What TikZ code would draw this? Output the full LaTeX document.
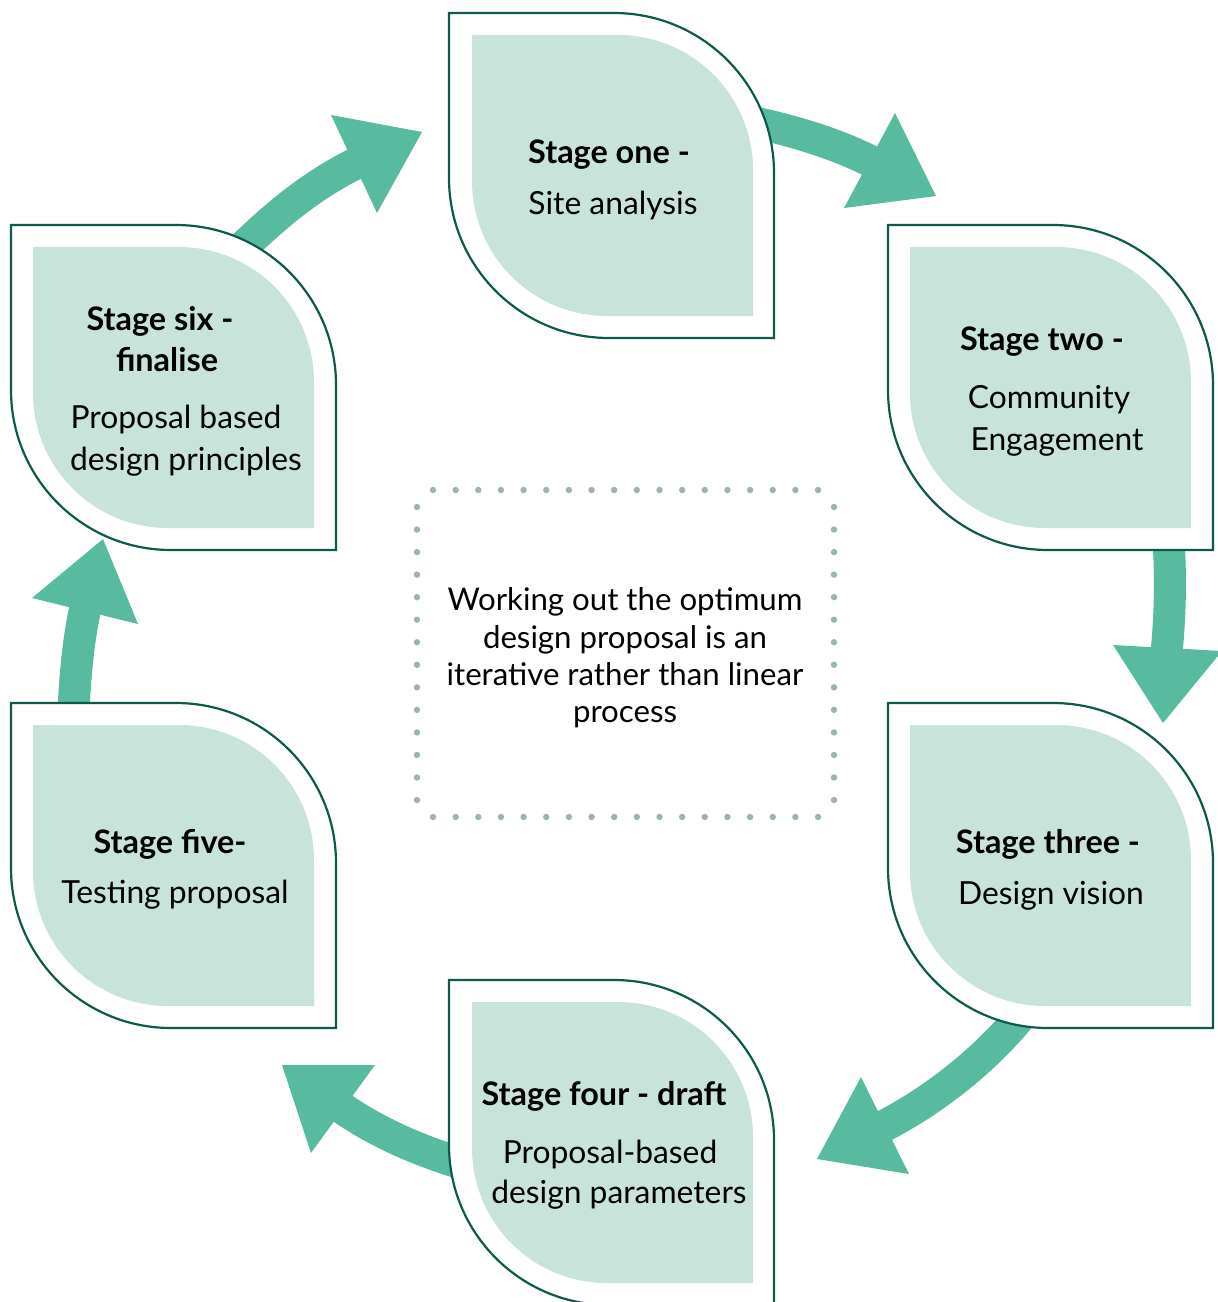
\documentclass[tikz,border=0pt]{standalone}
\usepackage{fontspec}
\setmainfont{Lato}
\definecolor{arrowgreen}{RGB}{88,186,158}
\definecolor{darkteal}{RGB}{12,90,76}
\definecolor{leaffill}{RGB}{200,228,218}
\definecolor{dotgrey}{RGB}{155,181,172}
% leaf path: top-left x, top-left y, side, corner radius (top-right and bottom-left rounded)
\newcommand\leafpath[4]{(#1,#2) -- ({#1+#3-#4},#2) .. controls ({#1+#3-0.4477*#4},#2) and ({#1+#3},{#2+0.4477*#4}) .. ({#1+#3},{#2+#4}) -- ({#1+#3},{#2+#3}) -- ({#1+#4},{#2+#3}) .. controls ({#1+0.4477*#4},{#2+#3}) and (#1,{#2+#3-0.4477*#4}) .. (#1,{#2+#3-#4}) -- cycle}
\tikzset{
  outerleaf/.style={fill=white, draw=darkteal, line width=1.1pt},
  innerleaf/.style={fill=leaffill},
  band/.style={draw=arrowgreen, line width=16pt},
  head/.style={fill=arrowgreen},
  title/.style={font=\fontsize{16.2}{19}\selectfont\bfseries, anchor=base, inner sep=0pt, text=black},
  body/.style={font=\fontsize{15.9}{19}\selectfont, anchor=base, inner sep=0pt, text=black},
  note/.style={font=\fontsize{15.6}{19}\selectfont, anchor=base, inner sep=0pt, text=black},
  dotmark/.style={fill=dotgrey}
}
\begin{document}
\begin{tikzpicture}[x=0.5pt,y=-0.5pt]
\useasboundingbox (0,0) rectangle (1218,1302);
\clip (0,0) rectangle (1218,1302);
\fill[white] (0,0) rectangle (1218,1302);

% arrow coordinates
\coordinate (a1s) at (700,113);  \coordinate (a1e) at (878,165);
\coordinate (a2s) at (1160,480); \coordinate (a2e) at (1166,658);
\coordinate (a3s) at (1040,990); \coordinate (a3e) at (876,1130);
\coordinate (a4s) at (520,1180); \coordinate (a4e) at (335,1103);
\coordinate (a5s) at (72,760);   \coordinate (a5e) at (87,601);
\coordinate (a6s) at (200,290);  \coordinate (a6e) at (363,160);

% arrow bands
\draw[band] (a1s) .. controls (758,121) and (826,137) .. (a1e);
\draw[band] (a2s) .. controls (1172,535) and (1172,600) .. (a2e);
\draw[band] (a3s) .. controls (1004,1044) and (943,1097) .. (a3e);
\draw[band] (a4s) .. controls (459,1164) and (394,1146) .. (a4e);
\draw[band] (a5s) .. controls (73,710) and (75,650) .. (a5e);
\draw[band] (a6s) .. controls (246,244) and (294,192) .. (a6e);

% arrow heads
\fill[head] (844,208) -- (936,196) -- (895,113) -- cycle;
\fill[head] (1113,645) -- (1222,651) -- (1163,723) -- cycle;
\fill[head] (861,1077) -- (817,1159) -- (909,1174) -- cycle;
\fill[head] (375,1065) -- (282,1065) -- (311,1153) -- cycle;
\fill[head] (32,598) -- (103,539) -- (138,624) -- cycle;
\fill[head] (331,115) -- (422,132) -- (377,213) -- cycle;

% leaf boxes
\draw[outerleaf] \leafpath{449}{13}{325}{160};
\fill[innerleaf] \leafpath{472}{35}{281}{135};
\draw[outerleaf] \leafpath{888}{225}{325}{160};
\fill[innerleaf] \leafpath{910}{247}{281}{135};
\draw[outerleaf] \leafpath{888}{703}{325}{160};
\fill[innerleaf] \leafpath{910}{725}{281}{135};
\draw[outerleaf] \leafpath{449}{980}{325}{160};
\fill[innerleaf] \leafpath{472}{1002}{281}{135};
\draw[outerleaf] \leafpath{11}{703}{325}{160};
\fill[innerleaf] \leafpath{33}{725}{281}{135};
\draw[outerleaf] \leafpath{11}{225}{325}{160};
\fill[innerleaf] \leafpath{33}{247}{281}{135};

% texts
\node[title] (s1t) at (609,163) {Stage one -};
\node[body]  (s1b) at (613,214) {Site analysis};

\node[title] (s2t) at (1042,350) {Stage two -};
\node[body]  (s2b) at (1049,408) {Community};
\node[body]  (s2c) at (1057,450) {Engagement};

\node[title] (s3t) at (1048,853) {Stage three -};
\node[body]  (s3b) at (1051,904) {Design vision};

\node[title] (s4t) at (604,1105) {Stage four - draft};
\node[body]  (s4b) at (610,1163) {Proposal-based};
\node[body]  (s4c) at (619,1203) {design parameters};

\node[title] (s5t) at (170,853) {Stage five-};
\node[body]  (s5b) at (175,903) {Testing proposal};

\node[title] (s6t) at (160,330) {Stage six -};
\node[title] (s6u) at (167,371) {finalise};
\node[body]  (s6b) at (176,428) {Proposal based};
\node[body]  (s6c) at (186,470) {design principles};

% centre note
\node[note] (c1) at (625,610) {Working out the optimum};
\node[note] (c2) at (625,648) {design proposal is an};
\node[note] (c3) at (625,685) {iterative rather than linear};
\node[note] (c4) at (625,722) {process};

% dotted frame
\foreach \i in {0,...,17} {
  \fill[dotmark] ({433+\i*22.65},490) circle[radius=3.2];
  \fill[dotmark] ({433+\i*22.65},817) circle[radius=3.2];
}
\foreach \i in {0,...,13} {
  \fill[dotmark] (417,{507+\i*22.54}) circle[radius=3.2];
  \fill[dotmark] (834,{507+\i*22.54}) circle[radius=3.2];
}
\end{tikzpicture}
\end{document}
